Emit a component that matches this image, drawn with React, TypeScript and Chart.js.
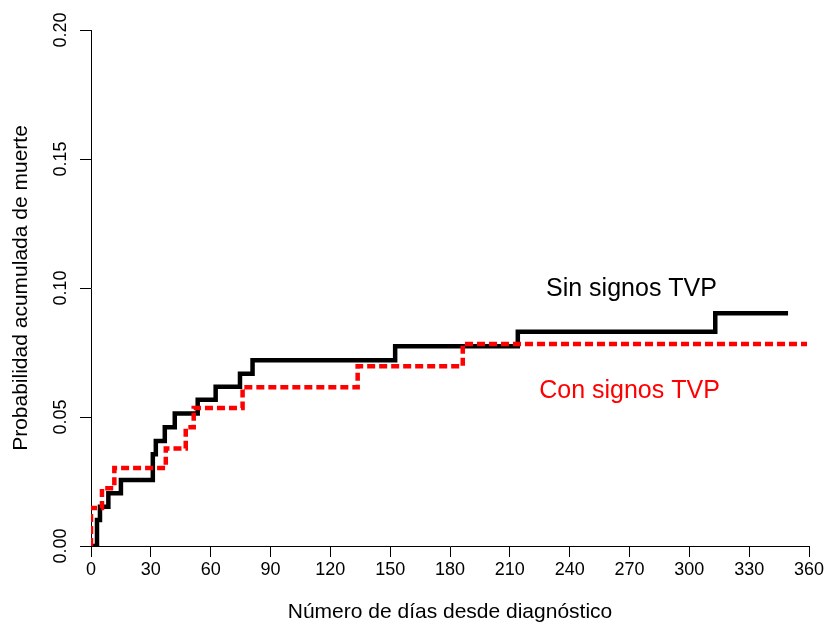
import React, { useEffect, useRef } from "react";
import { Chart, registerables } from "chart.js";

Chart.register(...registerables);

// Cumulative probability of death, step functions (day, probability)
const sinDays = [0, 3, 4.5, 8.7, 15, 31, 32.5, 37, 42, 53.5, 62.5, 74.7, 81, 152.5, 214, 313, 349.5];
const sinProb = [0, 0.0101, 0.0152, 0.0204, 0.0256, 0.0356, 0.0407, 0.046, 0.0514, 0.0567, 0.0617, 0.0668, 0.072, 0.0774, 0.083, 0.0902, 0.0902];

const conDays = [0, 0, 5.5, 11.7, 37.5, 47.5, 51.5, 76, 133.7, 186.4, 359];
const conProb = [0, 0.0147, 0.0224, 0.0302, 0.0378, 0.046, 0.0535, 0.0615, 0.0697, 0.0783, 0.0783];

const xTicks = [0, 30, 60, 90, 120, 150, 180, 210, 240, 270, 300, 330, 360];
const yTicks = [0, 0.05, 0.1, 0.15, 0.2];

const sinLabel = "Sin signos TVP";
const conLabel = "Con signos TVP";
const sinLabelAt = { x: 271, y: 0.0995 };
const conLabelAt = { x: 270, y: 0.0601 };

const FONT = "'Liberation Sans', Arial, sans-serif";

const toPoints = (xs: number[], ys: number[]) => xs.map((x, i) => ({ x, y: ys[i] }));

// Curve labels placed in data coordinates
const curveLabels = {
  id: "curveLabels",
  afterDatasetsDraw(chart: any) {
    const { ctx, scales } = chart;
    const items = [
      { text: sinLabel, at: sinLabelAt, color: "#000000" },
      { text: conLabel, at: conLabelAt, color: "#ff0000" },
    ];
    ctx.save();
    ctx.font = `25px ${FONT}`;
    ctx.textAlign = "center";
    ctx.textBaseline = "middle";
    for (const it of items) {
      ctx.fillStyle = it.color;
      ctx.fillText(it.text, scales.x.getPixelForValue(it.at.x), scales.y.getPixelForValue(it.at.y));
    }
    ctx.restore();
  },
};

export default function App() {
  const canvasRef = useRef<HTMLCanvasElement | null>(null);

  useEffect(() => {
    if (!canvasRef.current) return;
    const chart = new Chart(canvasRef.current, {
      type: "line",
      data: {
        datasets: [
          {
            label: sinLabel,
            data: toPoints(sinDays, sinProb),
            borderColor: "#000000",
            borderWidth: 4.5,
            stepped: "before",
            pointRadius: 0,
            fill: false,
            borderJoinStyle: "miter",
            borderCapStyle: "butt",
            order: 2,
          },
          {
            label: conLabel,
            data: toPoints(conDays, conProb),
            borderColor: "#ff0000",
            borderWidth: 4.5,
            borderDash: [8, 4],
            stepped: "before",
            pointRadius: 0,
            fill: false,
            borderJoinStyle: "miter",
            borderCapStyle: "butt",
            order: 1,
          },
        ],
      },
      options: {
        responsive: false,
        animation: false,
        devicePixelRatio: 1,
        layout: { padding: { left: 0, right: 21, top: 30, bottom: 0 } },
        plugins: { legend: { display: false }, tooltip: { enabled: false } },
        scales: {
          x: {
            type: "linear",
            min: 0,
            max: 360,
            afterBuildTicks: (s: any) => {
              s.ticks = xTicks.map((v) => ({ value: v }));
            },
            afterFit: (s: any) => {
              s.height = 77;
              s.paddingLeft = 0;
              s.paddingRight = 0;
            },
            border: { display: true, color: "#000000", width: 1 },
            grid: { drawOnChartArea: false, drawTicks: true, tickLength: 11, color: "#000000" },
            ticks: {
              color: "#000000",
              font: { family: FONT, size: 18 },
              padding: 2,
              maxRotation: 0,
              autoSkip: false,
              callback: (v: any) => String(v),
            },
            title: {
              display: true,
              text: "Número de días desde diagnóstico",
              color: "#000000",
              font: { family: FONT, size: 21 },
              padding: { top: 0, bottom: -2 },
            },
          },
          y: {
            type: "linear",
            min: 0,
            max: 0.2,
            afterBuildTicks: (s: any) => {
              s.ticks = yTicks.map((v) => ({ value: v }));
            },
            afterFit: (s: any) => {
              s.width = 91;
              s.paddingTop = 0;
              s.paddingBottom = 0;
            },
            border: { display: true, color: "#000000", width: 1 },
            grid: { drawOnChartArea: false, drawTicks: true, tickLength: 11, color: "#000000" },
            ticks: {
              color: "#000000",
              font: { family: FONT, size: 18 },
              padding: 1,
              minRotation: 90,
              maxRotation: 90,
              crossAlign: "center",
              autoSkip: false,
              callback: (v: any) => Number(v).toFixed(2),
            },
            title: {
              display: true,
              text: "Probabilidad acumulada de muerte",
              color: "#000000",
              font: { family: FONT, size: 21 },
              padding: { top: 9, bottom: 0 },
            },
          },
        },
      },
      plugins: [curveLabels],
    } as any);
    return () => chart.destroy();
  }, []);

  return (
    <div style={{ position: "absolute", left: 0, top: 0, width: 830, height: 623, background: "#ffffff" }}>
      <canvas ref={canvasRef} width={830} height={623} />
    </div>
  );
}
